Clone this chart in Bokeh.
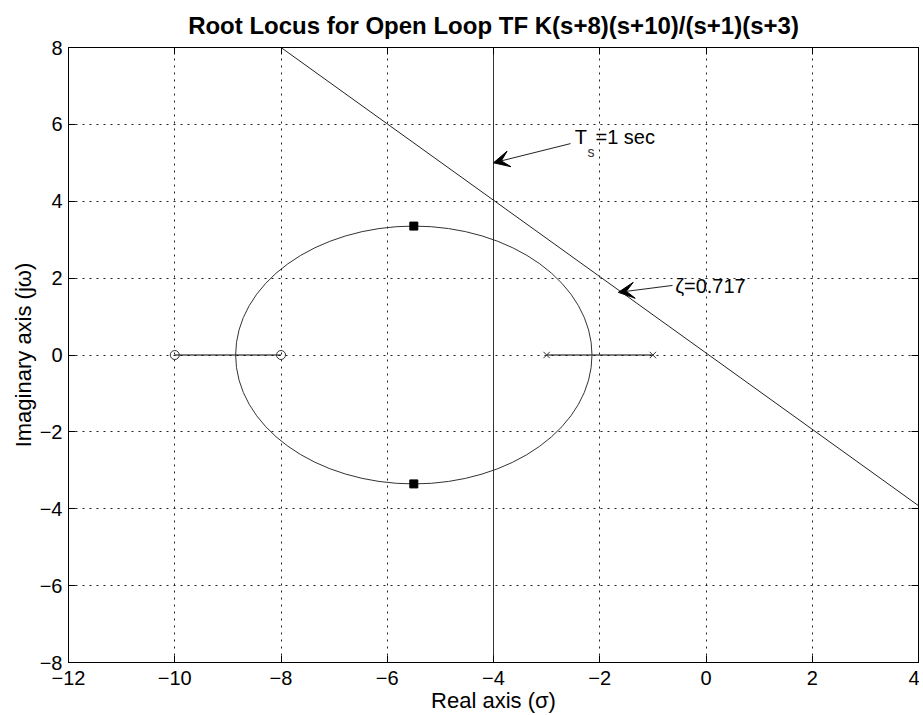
from bokeh.plotting import figure
from bokeh.models import Arrow, VeeHead, LinearAxis, Range1d, Label
from bokeh.embed import file_html
from bokeh.resources import INLINE

# ---- data ----
open_loop_zeros_x = [-10.0, -8.0]
open_loop_zeros_y = [0.0, 0.0]
open_loop_poles_x = [-3.0, -1.0]
open_loop_poles_y = [0.0, 0.0]
# real-axis locus segments (x0, x1)
segment_x0 = [-10.0, -3.0]
segment_x1 = [-8.0, -1.0]
segment_y = [0.0, 0.0]
# complex locus circle (breakaway -8.854 and -2.146)
circle_center_x = [-5.5]
circle_center_y = [0.0]
circle_diameter = [6.708]
# closed-loop design poles (squares)
design_poles_x = [-5.5, -5.5]
design_poles_y = [3.354, -3.354]
# settling time line Ts = 1 sec  -> sigma = -4
ts_line_x = [-4.0, -4.0]
ts_line_y = [-8.0, 8.0]
# damping ratio line zeta = 0.717
zeta_line_x = [-8.0, 4.0]
zeta_line_y = [8.0, -3.92]

xticks = [-12, -10, -8, -6, -4, -2, 0, 2, 4]
yticks = [-8, -6, -4, -2, 0, 2, 4, 6, 8]
xtick_labels = ["\u221212", "\u221210", "\u22128", "\u22126", "\u22124", "\u22122", "0", "2", "4"]
ytick_labels = ["\u22128", "\u22126", "\u22124", "\u22122", "0", "2", "4", "6", "8"]

FONT = "Liberation Sans"

p = figure(width=919, height=715, output_backend="svg", toolbar_location=None,
           x_range=Range1d(-12, 4), y_range=Range1d(-8, 8),
           title="Root Locus for Open Loop TF K(s+8)(s+10)/(s+1)(s+3)",
           min_border_left=68, min_border_right=1, min_border_top=47, min_border_bottom=53)

p.title.align = "center"
p.title.text_font = FONT
p.title.text_font_size = "24px"
p.title.text_font_style = "bold"
p.title.text_color = "black"
p.title.offset = 0
p.title.standoff = 17

p.outline_line_color = "black"
p.outline_line_width = 1
p.background_fill_color = "white"
p.border_fill_color = "white"

for ax, ticks, labels in ((p.xaxis[0], xticks, xtick_labels), (p.yaxis[0], yticks, ytick_labels)):
    ax.ticker = ticks
    ax.major_label_overrides = {t: l for t, l in zip(ticks, labels)}
    ax.major_tick_in = 7
    ax.major_tick_out = 0
    ax.minor_tick_in = 0
    ax.minor_tick_out = 0
    ax.axis_line_color = "black"
    ax.major_tick_line_color = "black"
    ax.major_label_text_font = FONT
    ax.major_label_text_font_size = "20px"
    ax.major_label_text_color = "black"
    ax.axis_label_text_font = FONT
    ax.axis_label_text_font_size = "22px"
    ax.axis_label_text_font_style = "normal"
    ax.axis_label_text_color = "black"

p.xaxis.axis_label = "Real axis (\u03c3)"
p.yaxis.axis_label = "Imaginary axis (j\u03c9)"
p.xaxis.major_label_standoff = 8
p.xaxis.axis_label_standoff = 0
p.yaxis.major_label_standoff = 6
p.yaxis.axis_label_standoff = 1

# top and right axes with inward ticks only
top = LinearAxis(ticker=xticks, major_tick_in=7, major_tick_out=0, minor_tick_in=0, minor_tick_out=0,
                 major_label_text_font_size="0px", major_label_standoff=0, axis_label_standoff=0,
                 axis_line_color="black")
right = LinearAxis(ticker=yticks, major_tick_in=7, major_tick_out=0, minor_tick_in=0, minor_tick_out=0,
                   major_label_text_font_size="0px", major_label_standoff=0, axis_label_standoff=0,
                   axis_line_color="black")
p.add_layout(top, "above")
p.add_layout(right, "right")

p.xgrid.ticker = xticks
p.ygrid.ticker = yticks
p.grid.grid_line_color = "#222222"
p.grid.grid_line_dash = "2 5"
p.grid.grid_line_width = 1

# lines
p.line(ts_line_x, ts_line_y, line_color="#333333", line_width=1)
p.line(zeta_line_x, zeta_line_y, line_color="#222222", line_width=1)
p.segment(x0=segment_x0, y0=segment_y, x1=segment_x1, y1=segment_y, line_color="black", line_width=1)
p.ellipse(x=circle_center_x, y=circle_center_y, width=circle_diameter, height=circle_diameter,
          fill_color=None, line_color="#333333", line_width=1)

# markers
p.scatter(open_loop_zeros_x, open_loop_zeros_y, marker="circle", size=9, fill_color=None,
          line_color="#333333", line_width=1)
p.scatter(open_loop_poles_x, open_loop_poles_y, marker="x", size=9, line_color="#333333", line_width=1)
p.scatter(design_poles_x, design_poles_y, marker="square", size=8, fill_color="black", line_color="black")

# annotations
head1 = VeeHead(size=16, fill_color="black", line_color="black")
p.add_layout(Arrow(end=head1, x_start=-2.55, y_start=5.5, x_end=-4.0, y_end=5.0,
                   line_color="#222222", line_width=1))
head2 = VeeHead(size=16, fill_color="black", line_color="black")
p.add_layout(Arrow(end=head2, x_start=-0.63, y_start=1.81, x_end=-1.65, y_end=1.63,
                   line_color="#222222", line_width=1))

p.add_layout(Label(x=-2.47, y=5.68, text="T", text_font=FONT, text_font_size="20px",
                   text_baseline="middle", text_color="black"))
p.add_layout(Label(x=-2.23, y=5.27, text="s", text_font=FONT, text_font_size="14px",
                   text_baseline="middle", text_color="#333333"))
p.add_layout(Label(x=-2.08, y=5.68, text="=1 sec", text_font=FONT, text_font_size="20px",
                   text_baseline="middle", text_color="black"))
p.add_layout(Label(x=-0.58, y=1.80, text="\u03b6=0.717", text_font=FONT, text_font_size="20px",
                   text_baseline="middle", text_color="black"))

open("out.html", "w").write(file_html(p, INLINE))
